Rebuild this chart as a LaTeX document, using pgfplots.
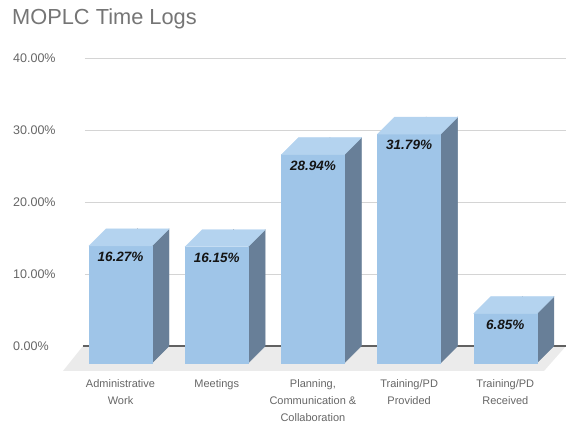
\documentclass[border=0pt]{standalone}
\usepackage{pgfplots}
\pgfplotsset{compat=1.18}
\usepackage{pgfplotstable}
\usepackage{fontspec}
\setmainfont{Liberation Sans}
\definecolor{frontc}{HTML}{9FC5E8}
\definecolor{topc}{HTML}{B4D3EF}
\definecolor{sidec}{HTML}{687F98}
\definecolor{floorc}{HTML}{EBEBEB}
\definecolor{gridc}{HTML}{D4D4D4}
\definecolor{labc}{HTML}{666666}
\definecolor{titlec}{HTML}{757575}
\pgfplotstableread{
x val
0 16.27
1 16.15
2 28.94
3 31.79
4 6.85
}\datatable
\begin{document}
\begin{tikzpicture}[x=1pt,y=1pt]
\useasboundingbox (0,0) rectangle (566,425);
\node[anchor=base west, inner sep=0pt, font=\fontsize{21.8}{24}\selectfont, text=titlec] at (12,400) {MOPLC Time Logs};
\begin{axis}[
  at={(85pt,79pt)}, anchor=south west,
  scale only axis, width=481pt, height=288pt,
  xmin=-0.546, xmax=4.454, ymin=0, ymax=40,
  clip=false,
  axis line style={draw=none},
  major tick length=0pt,
  ymajorgrids, grid style={gridc, line width=0.8pt},
  ytick={0,10,20,30,40},
  yticklabels={0.00\%,10.00\%,20.00\%,30.00\%,40.00\%},
  yticklabel style={anchor=west, inner sep=0pt, xshift=-72pt, text=labc, font=\fontsize{12.5}{14}\selectfont},
  xtick={0,1,2,3,4},
  xticklabels={{Administrative\\Work},{Meetings},{Planning,\\Communication \&\\Collaboration},{Training/PD\\Provided},{Training/PD\\Received}},
  xticklabel style={align=center, anchor=north, inner sep=0pt, xshift=-17pt, yshift=-33pt, text=labc, font=\fontsize{11}{17}\selectfont},
]
\fill[floorc] ([xshift=-2pt]rel axis cs:0,0) -- ([xshift=-22pt,yshift=-25pt]rel axis cs:0,0) -- ([xshift=-22pt,yshift=-25pt]rel axis cs:1,0) -- (rel axis cs:1,0) -- cycle;
\draw[black!62, line width=1.2pt] ([xshift=-2pt]rel axis cs:0,0) -- (rel axis cs:1,0);
\addplot[scatter, only marks, mark=*, mark size=0.01pt,
  visualization depends on={\thisrow{val} \as \rawy},
  scatter/@pre marker code/.code={},
  scatter/@post marker code/.code={%
    \pgfmathsetmacro\hb{-17-\rawy*7.2}%
    \pgfmathsetmacro\hs{-\rawy*7.2}%
    \fill[sidec] (14.5pt,-17pt) -- (31.5pt,0pt) -- (31.5pt,\hs pt) -- (14.5pt,\hb pt) -- cycle;
    \fill[frontc] (-48.5pt,-17pt) rectangle (14.5pt,\hb pt);
    \fill[topc] (-48.5pt,-17pt) -- (14.5pt,-17pt) -- (31.5pt,0pt) -- (-31.5pt,0pt) -- cycle;
    \node[inner sep=0pt, text=black!92, font=\fontsize{13.5}{15}\selectfont\bfseries\itshape] at (-17pt,-28pt) {\pgfmathprintnumber[fixed,fixed zerofill,precision=2,assume math mode=true]{\rawy}\%};
  },
] table[x=x, y=val] {\datatable};
\end{axis}
\end{tikzpicture}
\end{document}
